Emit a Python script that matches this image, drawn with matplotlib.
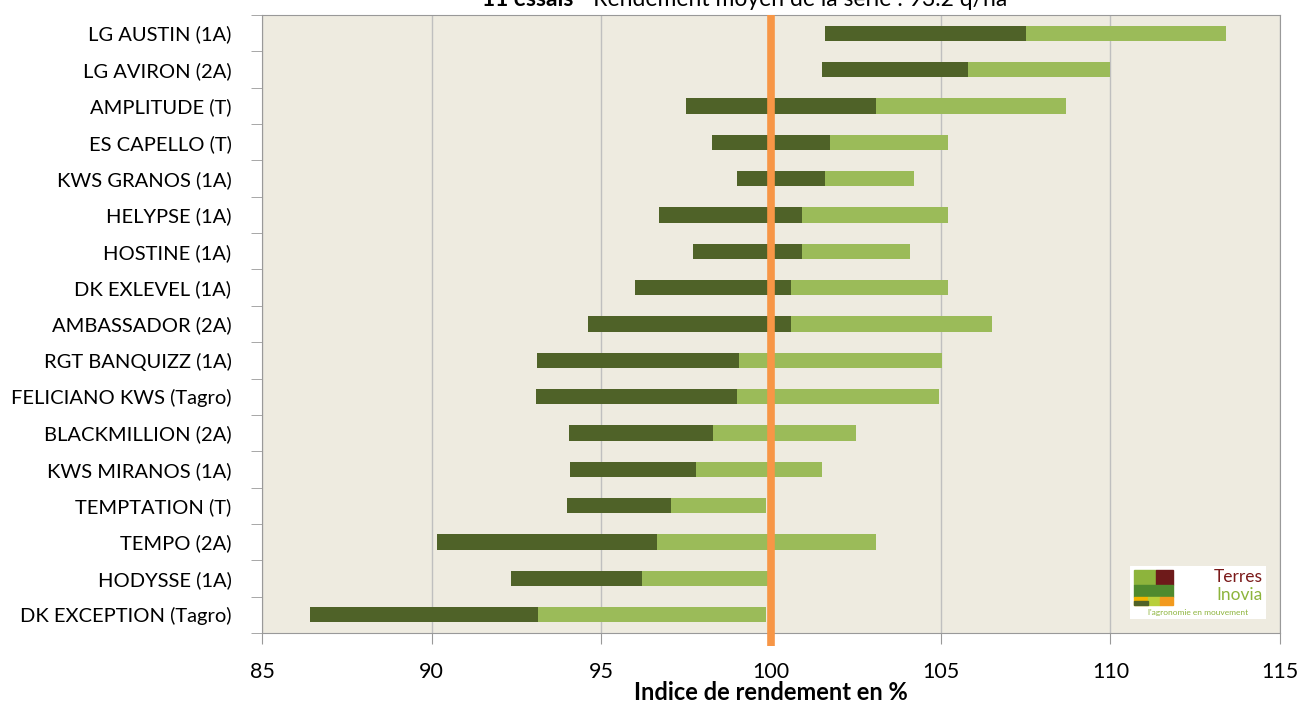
import matplotlib
matplotlib.use("Agg")
import matplotlib.pyplot as plt
from matplotlib.patches import Rectangle

plt.rcParams['font.family'] = ['Lato', 'DejaVu Sans']

# varietes, de haut en bas
varietes = ["LG AUSTIN (1A)", "LG AVIRON (2A)", "AMPLITUDE (T)", "ES CAPELLO (T)",
            "KWS GRANOS (1A)", "HELYPSE (1A)", "HOSTINE (1A)", "DK EXLEVEL (1A)",
            "AMBASSADOR (2A)", "RGT BANQUIZZ (1A)", "FELICIANO KWS (Tagro)",
            "BLACKMILLION (2A)", "KWS MIRANOS (1A)", "TEMPTATION (T)", "TEMPO (2A)",
            "HODYSSE (1A)", "DK EXCEPTION (Tagro)"]

# indice mini, moyen et maxi (en % de la moyenne)
mini = [101.6, 101.5, 97.5, 98.25, 99.0, 96.7, 97.7, 96.0, 94.6, 93.1, 93.07,
        94.04, 94.07, 93.98, 90.15, 92.33, 86.41]
moyen = [107.5, 105.8, 103.1, 101.75, 101.6, 100.9, 100.9, 100.6, 100.6, 99.07,
         99.0, 98.28, 97.8, 97.04, 96.63, 96.2, 93.12]
maxi = [113.4, 110.0, 108.7, 105.2, 104.2, 105.2, 104.1, 105.2, 106.5, 105.05,
        104.96, 102.49, 101.5, 99.84, 103.1, 100.1, 99.84]

x_ticks = [85, 90, 95, 100, 105, 110, 115]

fig = plt.figure(figsize=(13.03, 7.02), dpi=100)
ax = fig.add_axes([0.2011, 0.0983, 0.7813, 0.8803])
ax.set_facecolor("#EEEBE0")

pos = list(range(len(varietes)))[::-1]
ax.barh(pos, [m - a for m, a in zip(moyen, mini)], left=mini, height=0.42,
        color="#4F6228", zorder=3)
ax.barh(pos, [b - m for b, m in zip(maxi, moyen)], left=moyen, height=0.42,
        color="#9BBB59", zorder=3)

ax.set_xlim(85, 115)
ax.set_ylim(-0.5, len(varietes) - 0.5)
ax.set_xticks(x_ticks)
ax.set_xticklabels([str(t) for t in x_ticks], fontsize=15.5)
ax.set_yticks(pos)
ax.set_yticklabels(varietes, fontsize=14.5)
ax.tick_params(axis="y", length=0, pad=22)
ax.set_yticks([p + 0.5 for p in range(-1, len(varietes))], minor=True)
ax.tick_params(axis="y", which="minor", length=8, color="#999999")
ax.tick_params(axis="x", length=8, color="#999999", pad=13)
ax.grid(axis="x", color="#BFBFBF", linewidth=1, zorder=0)
for s in ax.spines.values():
    s.set_color("#999999")

# ligne des 100 %
ax.plot([100, 100], [-0.85, len(varietes) - 0.5], color="#F79646", linewidth=5.5,
        zorder=5, clip_on=False, solid_capstyle="butt")

ax.set_xlabel("Indice de rendement en %", fontsize=17, fontweight="bold", labelpad=-1)

fig.text(0.44, 1 - 6 / 702, "11 essais", fontsize=16.5, fontweight="bold", ha="right",
         va="baseline")
fig.text(0.44, 1 - 6 / 702, " - Rendement moyen de la série : 93.2 q/ha", fontsize=16.5,
         ha="left", va="baseline")

# logo Terres Inovia
lg = fig.add_axes([1130 / 1303, 1 - 619 / 702, 136 / 1303, 53 / 702])
lg.set_xlim(0, 136)
lg.set_ylim(0, 53)
lg.axis("off")
lg.add_patch(Rectangle((0, 0), 136, 53, color="white"))
lg.add_patch(Rectangle((4, 34), 22, 15, color="#8DB43C"))
lg.add_patch(Rectangle((26, 34), 17, 15, color="#6E1A1A"))
lg.add_patch(Rectangle((4, 22), 39, 12, color="#4F8A2E"))
lg.add_patch(Rectangle((4, 14), 14, 8, color="#F2B500"))
lg.add_patch(Rectangle((18, 14), 12, 8, color="#B8CF3A"))
lg.add_patch(Rectangle((30, 14), 13, 8, color="#F29A1E"))
lg.add_patch(Rectangle((4, 14), 14, 4, color="#4F6228"))
lg.text(133, 42, "Terres", color="#7B1A1A", fontsize=12.5, ha="right", va="center")
lg.text(133, 24, "Inovia", color="#8DB43C", fontsize=12.5, ha="right", va="center")
lg.text(68, 6, "l'agronomie en mouvement", color="#8DB43C", fontsize=6, ha="center",
        va="center")

fig.savefig("out.png", dpi=100)
